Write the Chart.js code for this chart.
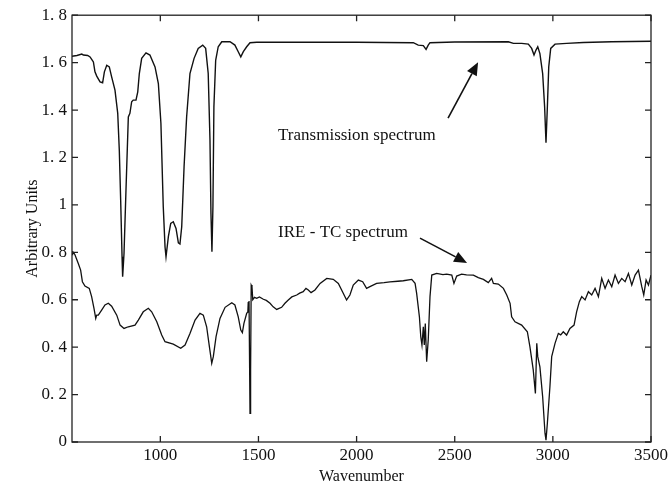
<!DOCTYPE html>
<html>
<head>
<meta charset="utf-8">
<script src="https://cdn.jsdelivr.net/npm/chart.js@4.4.1/dist/chart.umd.min.js"></script>
<style>
  body { margin: 0; background: #fff; }
  canvas { display: block; }
</style>
</head>
<body>
<canvas id="spectraChart" width="671" height="488"></canvas>
<script>
// tick values
const xTickValues = [1000, 1500, 2000, 2500, 3000, 3500];
const yTickValues = [0, 0.2, 0.4, 0.6, 0.8, 1, 1.2, 1.4, 1.6, 1.8];

// transmission spectrum
const transWave = [550, 575, 600, 608, 630, 642, 652, 659, 667, 676, 693, 706, 715, 727, 740, 752, 769, 783, 791, 798,
  805, 808, 815, 825, 837, 845, 854, 862, 876, 885, 893, 905, 927, 947, 973, 990, 1003, 1015, 1024, 1029,
  1041, 1053, 1066, 1080, 1092, 1100, 1109, 1121, 1134, 1151, 1172, 1193, 1216, 1231, 1244, 1253, 1258, 1263, 1268, 1273,
  1282, 1295, 1313, 1355, 1380, 1397, 1410, 1423, 1440, 1457, 1491, 1712, 2000, 2289, 2314, 2340, 2354, 2365, 2374, 2500,
  2773, 2799, 2841, 2875, 2892, 2904, 2914, 2923, 2934, 2948, 2958, 2965, 2972, 2979, 2989, 3011, 3070, 3155, 3300, 3500];
const transValues = [1.627, 1.630, 1.636, 1.632, 1.630, 1.624, 1.612, 1.603, 1.561, 1.543, 1.519, 1.515, 1.561, 1.589, 1.582, 1.540, 1.484, 1.386, 1.231, 1.020,
  0.781, 0.697, 0.795, 1.062, 1.371, 1.386, 1.435, 1.442, 1.442, 1.477, 1.554, 1.618, 1.641, 1.632, 1.582, 1.512, 1.344, 0.992, 0.823, 0.781,
  0.866, 0.922, 0.929, 0.901, 0.840, 0.835, 0.908, 1.161, 1.371, 1.554, 1.618, 1.660, 1.674, 1.660, 1.554, 1.273, 0.964, 0.802, 0.992, 1.414,
  1.610, 1.667, 1.688, 1.688, 1.674, 1.646, 1.624, 1.646, 1.667, 1.684, 1.686, 1.686, 1.686, 1.684, 1.674, 1.672, 1.656, 1.674, 1.684, 1.687,
  1.688, 1.681, 1.681, 1.678, 1.660, 1.632, 1.653, 1.667, 1.638, 1.554, 1.414, 1.262, 1.414, 1.582, 1.660, 1.678, 1.681, 1.685, 1.688, 1.690];

// IRE - TC spectrum
const ireWave = [550, 553, 557, 565, 582, 594, 603, 616, 638, 650, 662, 671, 676, 684, 701, 718, 735, 752, 778, 795,
  815, 837, 871, 888, 913, 939, 956, 982, 1007, 1024, 1066, 1104, 1126, 1151, 1177, 1202, 1219, 1236, 1250, 1262,
  1270, 1284, 1304, 1330, 1364, 1380, 1397, 1410, 1418, 1426, 1440, 1446, 1448, 1450, 1452, 1457, 1460, 1463, 1467, 1471,
  1480, 1491, 1505, 1525, 1540, 1559, 1575, 1593, 1618, 1635, 1652, 1670, 1695, 1710, 1728, 1742, 1754, 1768, 1788, 1814,
  1848, 1881, 1907, 1932, 1949, 1966, 1983, 2009, 2031, 2051, 2068, 2102, 2140, 2170, 2210, 2238, 2281, 2298, 2306, 2320,
  2327, 2333, 2340, 2345, 2350, 2357, 2365, 2374, 2383, 2408, 2440, 2459, 2485, 2496, 2510, 2535, 2560, 2595, 2620, 2646,
  2671, 2688, 2697, 2722, 2748, 2765, 2782, 2790, 2807, 2841, 2870, 2883, 2900, 2911, 2918, 2923, 2934, 2948, 2960, 2965,
  2972, 2985, 2994, 3011, 3028, 3040, 3053, 3070, 3087, 3108, 3121, 3135, 3147, 3164, 3181, 3198, 3215, 3232, 3249, 3266,
  3283, 3300, 3317, 3334, 3351, 3368, 3385, 3402, 3419, 3436, 3453, 3463, 3475, 3487, 3500];
const ireValues = [0.790, 0.802, 0.800, 0.790, 0.753, 0.725, 0.676, 0.658, 0.648, 0.613, 0.564, 0.521, 0.535, 0.535, 0.556, 0.578, 0.585, 0.573, 0.535, 0.493,
  0.479, 0.486, 0.493, 0.514, 0.549, 0.564, 0.549, 0.507, 0.451, 0.423, 0.413, 0.395, 0.409, 0.458, 0.514, 0.543, 0.535, 0.486, 0.402, 0.332,
  0.360, 0.444, 0.521, 0.568, 0.587, 0.578, 0.528, 0.472, 0.461, 0.500, 0.543, 0.549, 0.590, 0.545, 0.595, 0.121, 0.304, 0.662, 0.655, 0.600,
  0.610, 0.606, 0.612, 0.602, 0.597, 0.585, 0.570, 0.559, 0.568, 0.585, 0.599, 0.612, 0.620, 0.628, 0.634, 0.648, 0.641, 0.630, 0.641, 0.669,
  0.690, 0.686, 0.669, 0.627, 0.599, 0.620, 0.662, 0.683, 0.676, 0.648, 0.655, 0.669, 0.672, 0.675, 0.678, 0.680, 0.686, 0.669, 0.627, 0.528,
  0.444, 0.409, 0.486, 0.409, 0.500, 0.339, 0.430, 0.613, 0.704, 0.711, 0.706, 0.708, 0.704, 0.669, 0.700, 0.708, 0.705, 0.704, 0.693, 0.686,
  0.672, 0.690, 0.669, 0.666, 0.648, 0.620, 0.585, 0.528, 0.507, 0.493, 0.465, 0.402, 0.304, 0.205, 0.416, 0.360, 0.317, 0.191, 0.037, 0.008,
  0.079, 0.233, 0.360, 0.416, 0.458, 0.452, 0.465, 0.451, 0.479, 0.493, 0.549, 0.592, 0.613, 0.599, 0.634, 0.620, 0.648, 0.613, 0.690, 0.648,
  0.683, 0.655, 0.704, 0.669, 0.690, 0.676, 0.711, 0.662, 0.704, 0.725, 0.655, 0.620, 0.683, 0.662, 0.704];

// labels placed in data units
const noteTexts = ["Transmission spectrum", "IRE - TC spectrum"];
const noteWave = [1600, 1600];
const noteValue = [1.294, 0.885];
// arrows: tail -> head, in data units
const arrowFromWave = [2466, 2323];
const arrowFromValue = [1.366, 0.860];
const arrowToWave = [2619, 2563];
const arrowToValue = [1.602, 0.755];

const serif = '"Liberation Serif", "Times New Roman", serif';

function toPoints(xs, ys) {
  return xs.map((w, i) => ({ x: w, y: ys[i] }));
}

// box, inward ticks, notes and arrows
const frameAndNotes = {
  id: "frameAndNotes",
  afterDatasetsDraw(chart) {
    const { ctx, chartArea: a } = chart;
    const xs = chart.scales.x, ys = chart.scales.y;
    ctx.save();
    ctx.strokeStyle = "#222";
    ctx.lineWidth = 1.3;
    ctx.strokeRect(a.left, a.top, a.right - a.left, a.bottom - a.top);
    ctx.beginPath();
    xTickValues.forEach(v => {
      const px = xs.getPixelForValue(v);
      ctx.moveTo(px, a.bottom); ctx.lineTo(px, a.bottom - 6);
      ctx.moveTo(px, a.top); ctx.lineTo(px, a.top + 6);
    });
    yTickValues.forEach(v => {
      const py = ys.getPixelForValue(v);
      ctx.moveTo(a.left, py); ctx.lineTo(a.left + 6, py);
      ctx.moveTo(a.right, py); ctx.lineTo(a.right - 6, py);
    });
    ctx.stroke();

    ctx.fillStyle = "#111";
    ctx.font = "17px " + serif;
    ctx.textBaseline = "middle";
    ctx.textAlign = "left";
    noteTexts.forEach((t, i) => {
      ctx.fillText(t, xs.getPixelForValue(noteWave[i]), ys.getPixelForValue(noteValue[i]));
    });

    ctx.lineWidth = 1.6;
    ctx.strokeStyle = "#111";
    arrowFromWave.forEach((w, i) => {
      const x0 = xs.getPixelForValue(w), y0 = ys.getPixelForValue(arrowFromValue[i]);
      const x1 = xs.getPixelForValue(arrowToWave[i]), y1 = ys.getPixelForValue(arrowToValue[i]);
      const ang = Math.atan2(y1 - y0, x1 - x0);
      const len = 13, half = 5.5;
      const bx = x1 - len * Math.cos(ang), by = y1 - len * Math.sin(ang);
      ctx.beginPath();
      ctx.moveTo(x0, y0); ctx.lineTo(bx, by);
      ctx.stroke();
      ctx.beginPath();
      ctx.moveTo(x1, y1);
      ctx.lineTo(bx + half * Math.sin(ang), by - half * Math.cos(ang));
      ctx.lineTo(bx - half * Math.sin(ang), by + half * Math.cos(ang));
      ctx.closePath();
      ctx.fill();
    });
    ctx.restore();
  }
};

const ctx = document.getElementById("spectraChart");

new Chart(ctx, {
  type: "line",
  data: {
    datasets: [
      {
        label: "Transmission spectrum",
        data: toPoints(transWave, transValues),
        borderColor: "#111",
        borderWidth: 1.4,
        pointRadius: 0,
        tension: 0,
        fill: false,
      },
      {
        label: "IRE - TC spectrum",
        data: toPoints(ireWave, ireValues),
        borderColor: "#111",
        borderWidth: 1.3,
        pointRadius: 0,
        tension: 0,
        fill: false,
      },
    ],
  },
  options: {
    responsive: false,
    animation: false,
    layout: { padding: { top: 15, right: 20, left: 0, bottom: 0 } },
    plugins: {
      legend: { display: false },
      tooltip: { enabled: false },
    },
    scales: {
      x: {
        type: "linear",
        min: 550,
        max: 3500,
        grid: { display: false, drawTicks: false },
        border: { display: false },
        afterBuildTicks: (scale) => { scale.ticks = xTickValues.map(v => ({ value: v })); },
        afterFit: (scale) => { scale.height = 46; },
        ticks: {
          color: "#111",
          padding: 3,
          maxRotation: 0,
          font: { family: serif, size: 17 },
          callback: (v) => String(v),
        },
        title: {
          display: true,
          text: "Wavenumber",
          color: "#111",
          font: { family: serif, size: 16 },
          padding: { top: 0, bottom: 2 },
        },
      },
      y: {
        min: 0,
        max: 1.8,
        grid: { display: false, drawTicks: false },
        border: { display: false },
        afterBuildTicks: (scale) => { scale.ticks = yTickValues.map(v => ({ value: v })); },
        afterFit: (scale) => { scale.width = 72; },
        ticks: {
          color: "#111",
          padding: 5,
          font: { family: serif, size: 17 },
          callback: (v) => {
            const r = Math.round(v * 10) / 10;
            return Number.isInteger(r) ? String(r) : r.toFixed(1).replace(".", ". ");
          },
        },
        title: {
          display: true,
          text: "Arbitrary Units",
          color: "#111",
          font: { family: serif, size: 16 },
          padding: { top: 23, bottom: 0 },
        },
      },
    },
  },
  plugins: [frameAndNotes],
});
</script>
</body>
</html>
